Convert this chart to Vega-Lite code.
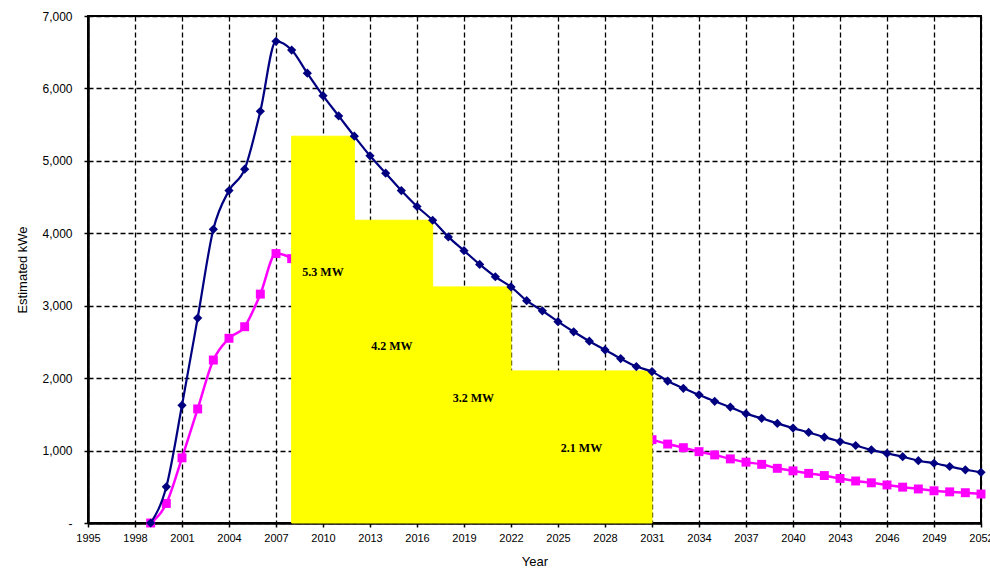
{
  "$schema": "https://vega.github.io/schema/vega-lite/v6.json",
  "autosize": {"type": "none"},
  "width": 893,
  "height": 507,
  "padding": {"left": 88, "top": 16, "right": 9, "bottom": 47},
  "background": "white",
  "config": {
    "view": {"stroke": "black", "strokeWidth": 2},
    "axis": {
      "labelFont": "Liberation Sans",
      "labelFontSize": 11,
      "labelColor": "black",
      "titleFont": "Liberation Sans",
      "titleFontSize": 13,
      "titleFontWeight": "normal",
      "titleColor": "black",
      "domainColor": "black",
      "domainWidth": 2.5,
      "tickColor": "black",
      "tickSize": 4,
      "tickWidth": 1.5,
      "gridColor": "black",
      "gridDash": [5, 3],
      "gridWidth": 1.3,
      "gridOpacity": 1
    }
  },
  "datasets": {
    "lines": [
      {"year": 1999, "series": "A", "kwe": 0}, {"year": 2000, "series": "A", "kwe": 500}, {"year": 2001, "series": "A", "kwe": 1625}, {"year": 2002, "series": "A", "kwe": 2830}, {"year": 2003, "series": "A", "kwe": 4055}, {"year": 2004, "series": "A", "kwe": 4590}, {"year": 2005, "series": "A", "kwe": 4885}, {"year": 2006, "series": "A", "kwe": 5685}, {"year": 2007, "series": "A", "kwe": 6650}, {"year": 2008, "series": "A", "kwe": 6530}, {"year": 2009, "series": "A", "kwe": 6210}, {"year": 2010, "series": "A", "kwe": 5900}, {"year": 2011, "series": "A", "kwe": 5620}, {"year": 2012, "series": "A", "kwe": 5340}, {"year": 2013, "series": "A", "kwe": 5070}, {"year": 2014, "series": "A", "kwe": 4830}, {"year": 2015, "series": "A", "kwe": 4590}, {"year": 2016, "series": "A", "kwe": 4370}, {"year": 2017, "series": "A", "kwe": 4180}, {"year": 2018, "series": "A", "kwe": 3950}, {"year": 2019, "series": "A", "kwe": 3760}, {"year": 2020, "series": "A", "kwe": 3570}, {"year": 2021, "series": "A", "kwe": 3400}, {"year": 2022, "series": "A", "kwe": 3260}, {"year": 2023, "series": "A", "kwe": 3070}, {"year": 2024, "series": "A", "kwe": 2930}, {"year": 2025, "series": "A", "kwe": 2780}, {"year": 2026, "series": "A", "kwe": 2640}, {"year": 2027, "series": "A", "kwe": 2510}, {"year": 2028, "series": "A", "kwe": 2390}, {"year": 2029, "series": "A", "kwe": 2270}, {"year": 2030, "series": "A", "kwe": 2160}, {"year": 2031, "series": "A", "kwe": 2090}, {"year": 2032, "series": "A", "kwe": 1960}, {"year": 2033, "series": "A", "kwe": 1860}, {"year": 2034, "series": "A", "kwe": 1770}, {"year": 2035, "series": "A", "kwe": 1680}, {"year": 2036, "series": "A", "kwe": 1600}, {"year": 2037, "series": "A", "kwe": 1510}, {"year": 2038, "series": "A", "kwe": 1445}, {"year": 2039, "series": "A", "kwe": 1375}, {"year": 2040, "series": "A", "kwe": 1310}, {"year": 2041, "series": "A", "kwe": 1250}, {"year": 2042, "series": "A", "kwe": 1185}, {"year": 2043, "series": "A", "kwe": 1125}, {"year": 2044, "series": "A", "kwe": 1070}, {"year": 2045, "series": "A", "kwe": 1010}, {"year": 2046, "series": "A", "kwe": 960}, {"year": 2047, "series": "A", "kwe": 915}, {"year": 2048, "series": "A", "kwe": 860}, {"year": 2049, "series": "A", "kwe": 825}, {"year": 2050, "series": "A", "kwe": 780}, {"year": 2051, "series": "A", "kwe": 735}, {"year": 2052, "series": "A", "kwe": 700},
      {"year": 1999, "series": "B", "kwe": 0}, {"year": 2000, "series": "B", "kwe": 270}, {"year": 2001, "series": "B", "kwe": 900}, {"year": 2002, "series": "B", "kwe": 1575}, {"year": 2003, "series": "B", "kwe": 2250}, {"year": 2004, "series": "B", "kwe": 2550}, {"year": 2005, "series": "B", "kwe": 2710}, {"year": 2006, "series": "B", "kwe": 3160}, {"year": 2007, "series": "B", "kwe": 3720}, {"year": 2008, "series": "B", "kwe": 3650}, {"year": 2009, "series": "B", "kwe": 3460}, {"year": 2010, "series": "B", "kwe": 3280}, {"year": 2011, "series": "B", "kwe": 3120}, {"year": 2012, "series": "B", "kwe": 2960}, {"year": 2013, "series": "B", "kwe": 2810}, {"year": 2014, "series": "B", "kwe": 2680}, {"year": 2015, "series": "B", "kwe": 2550}, {"year": 2016, "series": "B", "kwe": 2420}, {"year": 2017, "series": "B", "kwe": 2320}, {"year": 2018, "series": "B", "kwe": 2190}, {"year": 2019, "series": "B", "kwe": 2090}, {"year": 2020, "series": "B", "kwe": 1980}, {"year": 2021, "series": "B", "kwe": 1890}, {"year": 2022, "series": "B", "kwe": 1810}, {"year": 2023, "series": "B", "kwe": 1700}, {"year": 2024, "series": "B", "kwe": 1630}, {"year": 2025, "series": "B", "kwe": 1540}, {"year": 2026, "series": "B", "kwe": 1470}, {"year": 2027, "series": "B", "kwe": 1390}, {"year": 2028, "series": "B", "kwe": 1330}, {"year": 2029, "series": "B", "kwe": 1260}, {"year": 2030, "series": "B", "kwe": 1200}, {"year": 2031, "series": "B", "kwe": 1150}, {"year": 2032, "series": "B", "kwe": 1090}, {"year": 2033, "series": "B", "kwe": 1040}, {"year": 2034, "series": "B", "kwe": 985}, {"year": 2035, "series": "B", "kwe": 940}, {"year": 2036, "series": "B", "kwe": 885}, {"year": 2037, "series": "B", "kwe": 840}, {"year": 2038, "series": "B", "kwe": 810}, {"year": 2039, "series": "B", "kwe": 755}, {"year": 2040, "series": "B", "kwe": 720}, {"year": 2041, "series": "B", "kwe": 685}, {"year": 2042, "series": "B", "kwe": 655}, {"year": 2043, "series": "B", "kwe": 615}, {"year": 2044, "series": "B", "kwe": 580}, {"year": 2045, "series": "B", "kwe": 555}, {"year": 2046, "series": "B", "kwe": 525}, {"year": 2047, "series": "B", "kwe": 495}, {"year": 2048, "series": "B", "kwe": 470}, {"year": 2049, "series": "B", "kwe": 445}, {"year": 2050, "series": "B", "kwe": 430}, {"year": 2051, "series": "B", "kwe": 418}, {"year": 2052, "series": "B", "kwe": 400}
    ],
    "blocks": [
      {"start": 2008, "end": 2012, "top": 5340},
      {"start": 2012, "end": 2017, "top": 4180},
      {"start": 2017, "end": 2022, "top": 3260},
      {"start": 2022, "end": 2031, "top": 2100}
    ],
    "labels": [
      {"year": 2010.0, "kwe": 3470, "label": "5.3 MW"},
      {"year": 2014.4, "kwe": 2450, "label": "4.2 MW"},
      {"year": 2019.6, "kwe": 1730, "label": "3.2 MW"},
      {"year": 2026.5, "kwe": 1030, "label": "2.1 MW"}
    ]
  },
  "layer": [
    {
      "data": {"name": "lines"},
      "transform": [{"filter": "datum.series == 'B'"}],
      "mark": {"type": "line", "color": "#FF00FF", "strokeWidth": 2.5, "interpolate": "monotone", "point": {"shape": "square", "size": 80, "filled": true, "color": "#FF00FF"}},
      "encoding": {
        "x": {"field": "year", "type": "quantitative", "scale": {"domain": [1995, 2052], "nice": false, "zero": false}, "axis": {"title": "Year", "values": [1995, 1998, 2001, 2004, 2007, 2010, 2013, 2016, 2019, 2022, 2025, 2028, 2031, 2034, 2037, 2040, 2043, 2046, 2049, 2052], "format": "d", "labelPadding": 5, "titlePadding": 12, "labelFlush": false}},
        "y": {"field": "kwe", "type": "quantitative", "scale": {"domain": [0, 7000], "nice": false}, "axis": {"title": "Estimated kWe", "values": [0, 1000, 2000, 3000, 4000, 5000, 6000, 7000], "labelExpr": "datum.value == 0 ? '-' : format(datum.value, ',')", "labelFontSize": 12, "labelPadding": 12, "titlePadding": 12, "tickSize": 4}}
      }
    },
    {
      "data": {"name": "blocks"},
      "mark": {"type": "rect", "color": "#FFFF00", "stroke": "#FFFF00", "strokeWidth": 1, "opacity": 1},
      "encoding": {
        "x": {"field": "start", "type": "quantitative"},
        "x2": {"field": "end"},
        "y": {"field": "top", "type": "quantitative"},
        "y2": {"datum": 0}
      }
    },
    {
      "data": {"name": "labels"},
      "mark": {"type": "text", "font": "Liberation Serif", "fontWeight": "bold", "fontSize": 12, "color": "black"},
      "encoding": {
        "x": {"field": "year", "type": "quantitative"},
        "y": {"field": "kwe", "type": "quantitative"},
        "text": {"field": "label"}
      }
    },
    {
      "data": {"name": "lines"},
      "transform": [{"filter": "datum.series == 'A'"}],
      "mark": {"type": "line", "color": "#000080", "strokeWidth": 2.2, "interpolate": "monotone", "point": {"shape": "diamond", "size": 85, "filled": true, "color": "#000080"}},
      "encoding": {
        "x": {"field": "year", "type": "quantitative"},
        "y": {"field": "kwe", "type": "quantitative"}
      }
    }
  ]
}
